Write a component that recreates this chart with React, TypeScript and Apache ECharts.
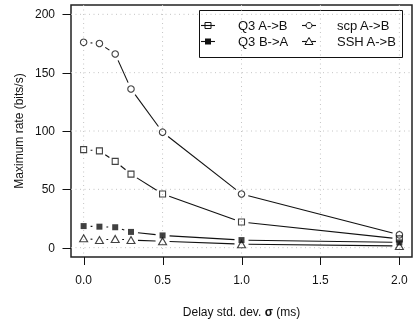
import React, { useEffect, useRef } from "react";
import * as echarts from "echarts";

const xValues = [0, 0.1, 0.2, 0.3, 0.5, 1.0, 2.0];
const q3AB = [84, 83, 74, 63, 46, 22, 7.5];
const q3BA = [18.5, 18, 17.5, 13.5, 10.5, 6.5, 4.5];
const scpAB = [176, 175, 166, 136, 99, 46, 11];
const sshAB = [8, 6.5, 7.5, 6.5, 5.5, 3, 1.5];
const seriesNames = ["Q3 A->B", "Q3 B->A", "scp A->B", "SSH A->B"];
const xTicks = [0, 0.5, 1.0, 1.5, 2.0];
const yTicks = [0, 50, 100, 150, 200];
const xTitleParts = ["Delay std. dev. ", "σ", " (ms)"];
const yTitle = "Maximum rate (bits/s)";

const FONT = "'Liberation Sans', Arial, Helvetica, sans-serif";
const INK = "#111";

type Mark = { symbol: string; size: number | number[]; filled: boolean };
const marks: Mark[] = [
  { symbol: "rect", size: 6, filled: false },
  { symbol: "rect", size: 6, filled: true },
  { symbol: "circle", size: 6.5, filled: false },
  { symbol: "triangle", size: [8, 7], filled: false },
];
const allValues = [q3AB, q3BA, scpAB, sshAB];

function segmentsOf(vals: number[]) {
  const out: number[][] = [];
  for (let i = 0; i < vals.length - 1; i++) {
    out.push([xValues[i], vals[i], xValues[i + 1], vals[i + 1]]);
  }
  return out;
}

const GAP = 7;

function lineRender(params: any, api: any) {
  const p1 = api.coord([api.value(0), api.value(1)]);
  const p2 = api.coord([api.value(2), api.value(3)]);
  const dx = p2[0] - p1[0];
  const dy = p2[1] - p1[1];
  const d = Math.hypot(dx, dy);
  if (d <= 2 * GAP) return { type: "group", children: [] };
  const ux = dx / d;
  const uy = dy / d;
  return {
    type: "line",
    shape: {
      x1: p1[0] + ux * GAP,
      y1: p1[1] + uy * GAP,
      x2: p2[0] - ux * GAP,
      y2: p2[1] - uy * GAP,
    },
    style: { stroke: INK, lineWidth: 1.1 },
  };
}

export default function App() {
  const ref = useRef<HTMLDivElement>(null);
  useEffect(() => {
    if (!ref.current) return;
    const chart = echarts.init(ref.current, undefined, { renderer: "svg" });

    const series: any[] = [];
    // dotted grid lines
    series.push({
      type: "custom",
      silent: true,
      z: 1,
      data: xTicks.map((v) => [v, 0]),
      encode: { x: 0, y: 1 },
      renderItem: (params: any, api: any) => {
        const x = api.coord([api.value(0), 0])[0];
        const cs = params.coordSys;
        return {
          type: "line",
          shape: { x1: x, y1: cs.y, x2: x, y2: cs.y + cs.height },
          style: { stroke: "#c4c4c4", lineWidth: 1, lineDash: [1, 3.5] },
        };
      },
    });
    series.push({
      type: "custom",
      silent: true,
      z: 1,
      data: yTicks.map((v) => [0, v]),
      encode: { x: 0, y: 1 },
      renderItem: (params: any, api: any) => {
        const y = api.coord([0, api.value(1)])[1];
        const cs = params.coordSys;
        return {
          type: "line",
          shape: { x1: cs.x, y1: y, x2: cs.x + cs.width, y2: y },
          style: { stroke: "#c4c4c4", lineWidth: 1, lineDash: [1, 3.5] },
        };
      },
    });
    // axis ticks (outside the box)
    series.push({
      type: "custom",
      silent: true,
      clip: false,
      z: 2,
      data: xTicks.map((v) => [v, 0]),
      encode: { x: 0, y: 1 },
      renderItem: (params: any, api: any) => {
        const x = Math.round(api.coord([api.value(0), 0])[0]) + 0.5;
        const cs = params.coordSys;
        const y0 = cs.y + cs.height;
        return {
          type: "line",
          shape: { x1: x, y1: y0, x2: x, y2: y0 + 8 },
          style: { stroke: INK, lineWidth: 1 },
        };
      },
    });
    series.push({
      type: "custom",
      silent: true,
      clip: false,
      z: 2,
      data: yTicks.map((v) => [0, v]),
      encode: { x: 0, y: 1 },
      renderItem: (params: any, api: any) => {
        const y = Math.round(api.coord([0, api.value(1)])[1]) + 0.5;
        const cs = params.coordSys;
        const x0 = cs.x;
        return {
          type: "line",
          shape: { x1: x0 - 8.5, y1: y, x2: x0, y2: y },
          style: { stroke: INK, lineWidth: 1 },
        };
      },
    });

    allValues.forEach((vals, i) => {
      series.push({
        type: "custom",
        name: seriesNames[i],
        silent: true,
        z: 3,
        data: segmentsOf(vals),
        encode: { x: [0, 2], y: [1, 3] },
        renderItem: lineRender,
      });
      const m = marks[i];
      series.push({
        type: "scatter",
        name: seriesNames[i],
        silent: true,
        z: 4,
        symbol: m.symbol,
        symbolSize: m.size,
        data: xValues.map((x, j) => [x, vals[j]]),
        itemStyle: {
          color: m.filled ? INK : "rgba(0,0,0,0)",
          borderColor: INK,
          borderWidth: m.filled ? 0 : 1.1,
        },
      });
    });

    // legend drawn as graphics
    const legendLeft = 199.5;
    const legendTop = 10.5;
    const legendW = 203;
    const legendH = 47;
    const rows = [25.5, 41.5];
    const cols = [
      { lineX1: 201, lineX2: 215, textX: 238 },
      { lineX1: 302, lineX2: 316, textX: 337 },
    ];
    const legendChildren: any[] = [
      {
        type: "rect",
        shape: { x: legendLeft, y: legendTop, width: legendW, height: legendH },
        style: { fill: "#fff", stroke: INK, lineWidth: 1 },
      },
    ];
    seriesNames.forEach((name, i) => {
      const col = cols[Math.floor(i / 2)];
      const y = rows[i % 2];
      const cx = (col.lineX1 + col.lineX2) / 2;
      legendChildren.push({
        type: "line",
        shape: { x1: col.lineX1, y1: y, x2: col.lineX2, y2: y },
        style: { stroke: INK, lineWidth: 1.1 },
      });
      const m = marks[i];
      const fill = m.filled ? INK : "#fff";
      if (m.symbol === "rect") {
        const s = m.size as number;
        legendChildren.push({
          type: "rect",
          shape: { x: cx - s / 2, y: y - s / 2, width: s, height: s },
          style: { fill: m.filled ? INK : "rgba(0,0,0,0)", stroke: INK, lineWidth: m.filled ? 0 : 1 },
        });
      } else if (m.symbol === "circle") {
        legendChildren.push({
          type: "circle",
          shape: { cx, cy: y, r: 3 },
          style: { fill, stroke: INK, lineWidth: 1 },
        });
      } else {
        legendChildren.push({
          type: "polygon",
          shape: { points: [[cx, y - 4], [cx + 4, y + 3], [cx - 4, y + 3]] },
          style: { fill, stroke: INK, lineWidth: 1 },
        });
      }
      legendChildren.push({
        type: "text",
        x: col.textX,
        y: y,
        style: {
          text: name,
          fill: INK,
          font: `13px ${FONT}`,
          align: "left",
          verticalAlign: "middle",
        },
      });
    });

    chart.setOption({
      animation: false,
      grid: {
        left: 71,
        top: 5,
        right: 3,
        bottom: 66,
        show: true,
        borderColor: "#222",
        borderWidth: 1.5,
        backgroundColor: "transparent",
      },
      xAxis: {
        type: "value",
        min: -0.08,
        max: 2.08,
        axisLine: { show: false },
        splitLine: { show: false },
        axisTick: { show: false },
        axisLabel: {
          customValues: xTicks,
          formatter: (v: number) => v.toFixed(1),
          margin: 17,
          fontSize: 12,
          fontFamily: FONT,
          color: INK,
        },
      },
      yAxis: {
        type: "value",
        min: -8,
        max: 208,
        axisLine: { show: false },
        splitLine: { show: false },
        axisTick: { show: false },
        axisLabel: {
          customValues: yTicks,
          formatter: (v: number) => String(v),
          margin: 16,
          fontSize: 12,
          fontFamily: FONT,
          color: INK,
        },
      },
      series,
      graphic: [
        {
          type: "group",
          z: 10,
          children: legendChildren,
        },
        {
          type: "text",
          x: 241.5,
          y: 312,
          style: {
            text: `{a|${xTitleParts[0]}}{b|${xTitleParts[1]}}{a|${xTitleParts[2]}}`,
            align: "center",
            verticalAlign: "middle",
            fill: INK,
            rich: {
              a: { fontSize: 12, fontFamily: FONT, fill: INK },
              b: { fontSize: 12, fontFamily: FONT, fontWeight: "bold", fill: INK },
            },
          },
        },
        {
          type: "text",
          x: 19,
          y: 131,
          rotation: Math.PI / 2,
          style: {
            text: yTitle,
            font: `12px ${FONT}`,
            fill: INK,
            align: "center",
            verticalAlign: "middle",
          },
        },
      ],
    });
    return () => chart.dispose();
  }, []);
  return (
    <div
      ref={ref}
      style={{ position: "fixed", left: 0, top: 0, width: 415, height: 323 }}
    />
  );
}
